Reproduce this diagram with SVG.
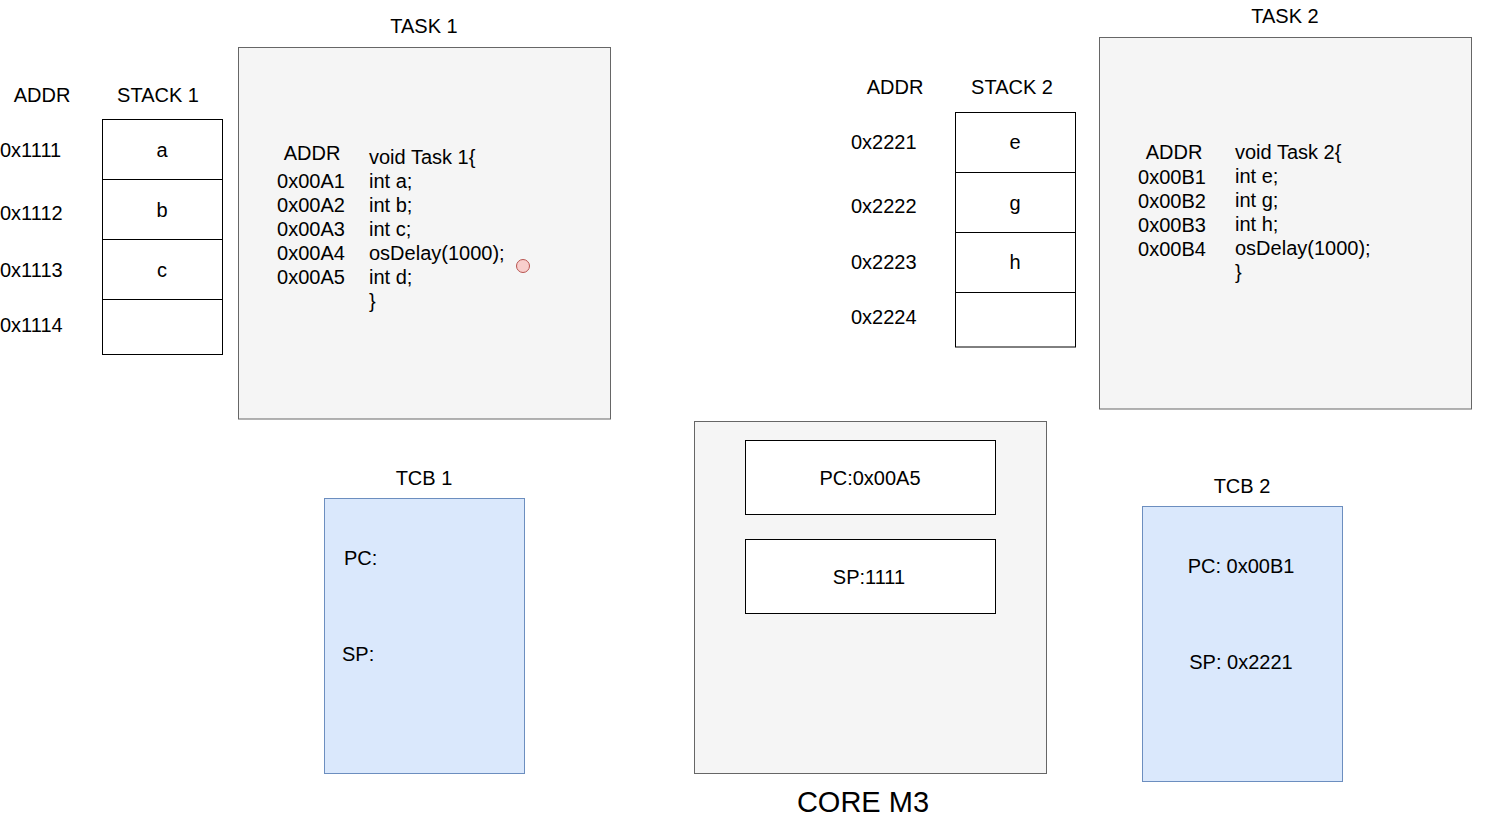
<svg xmlns="http://www.w3.org/2000/svg" width="1501" height="819" viewBox="0 0 1501 819">
<style>
text{font-family:"Liberation Sans",Arial,sans-serif;font-size:20px;fill:#000;dominant-baseline:central}
.c{text-anchor:middle}
.task{fill:#f5f5f5;stroke:#666;stroke-width:1}
.cell{fill:#fff;stroke:#000;stroke-width:1}
.tcb{fill:#dae8fc;stroke:#6c8ebf;stroke-width:1}
.big{font-size:29px}
</style>
<rect width="1501" height="819" fill="#fff"/>
<g id="connectors"/>

<g id="task1">
<rect class="task" x="238.5" y="47.5" width="372" height="371.5"/>
<text class="c" x="424" y="26">TASK 1</text>
<text class="c" x="312" y="153">ADDR</text>
<text class="c" x="311" y="181">0x00A1</text>
<text class="c" x="311" y="205">0x00A2</text>
<text class="c" x="311" y="229">0x00A3</text>
<text class="c" x="311" y="253">0x00A4</text>
<text class="c" x="311" y="277">0x00A5</text>
<text x="369" y="157">void Task 1{</text>
<text x="369" y="181">int a;</text>
<text x="369" y="205">int b;</text>
<text x="369" y="229">int c;</text>
<text x="369" y="253">osDelay(1000);</text>
<text x="369" y="277">int d;</text>
<text x="369" y="301">}</text>
</g>
<g id="pointer1">
<circle cx="523" cy="266" r="6.5" fill="#f8cecc" stroke="#b85450" stroke-width="1"/>
</g>

<g id="stack1">
<text class="c" x="42" y="95">ADDR</text>
<text class="c" x="158" y="95">STACK 1</text>
<rect class="cell" x="102.5" y="119.5" width="120" height="60"/>
<rect class="cell" x="102.5" y="179.5" width="120" height="60"/>
<rect class="cell" x="102.5" y="239.5" width="120" height="60"/>
<rect class="cell" x="102.5" y="299.5" width="120" height="55"/>
<text class="c" x="162" y="150">a</text>
<text class="c" x="162" y="210">b</text>
<text class="c" x="162" y="270">c</text>
<text x="0" y="150">0x1111</text>
<text x="0" y="213">0x1112</text>
<text x="0" y="270">0x1113</text>
<text x="0" y="325">0x1114</text>
</g>

<g id="stack2">
<text class="c" x="895" y="87">ADDR</text>
<text class="c" x="1012" y="87">STACK 2</text>
<rect class="cell" x="955.5" y="112.5" width="120" height="60"/>
<rect class="cell" x="955.5" y="172.5" width="120" height="60"/>
<rect class="cell" x="955.5" y="232.5" width="120" height="60"/>
<rect class="cell" x="955.5" y="292.5" width="120" height="54.5"/>
<text class="c" x="1015" y="142">e</text>
<text class="c" x="1015" y="203">g</text>
<text class="c" x="1015" y="262">h</text>
<text x="851" y="142">0x2221</text>
<text x="851" y="206">0x2222</text>
<text x="851" y="262">0x2223</text>
<text x="851" y="317">0x2224</text>
</g>

<g id="task2">
<rect class="task" x="1099.5" y="37.5" width="372" height="371.5"/>
<text class="c" x="1285" y="16">TASK 2</text>
<text class="c" x="1174" y="152">ADDR</text>
<text class="c" x="1172" y="177">0x00B1</text>
<text class="c" x="1172" y="201">0x00B2</text>
<text class="c" x="1172" y="225">0x00B3</text>
<text class="c" x="1172" y="249">0x00B4</text>
<text x="1235" y="152">void Task 2{</text>
<text x="1235" y="176">int e;</text>
<text x="1235" y="200">int g;</text>
<text x="1235" y="224">int h;</text>
<text x="1235" y="248">osDelay(1000);</text>
<text x="1235" y="272">}</text>
</g>

<g id="core">
<rect class="task" x="694.5" y="421.5" width="352" height="352"/>
<text class="c big" x="863" y="802">CORE M3</text>
</g>
<g id="pc">
<rect class="cell" x="745.5" y="440.5" width="250" height="74"/>
<text class="c" x="870" y="478">PC:0x00A5</text>
</g>
<g id="sp">
<rect class="cell" x="745.5" y="539.5" width="250" height="74"/>
<text class="c" x="869" y="577">SP:1111</text>
</g>

<g id="tcb1">
<text class="c" x="424" y="478">TCB 1</text>
<rect class="tcb" x="324.5" y="498.5" width="200" height="275"/>
<text x="344" y="558">PC:</text>
<text x="342" y="654">SP:</text>
</g>

<g id="tcb2">
<text class="c" x="1242" y="486">TCB 2</text>
<rect class="tcb" x="1142.5" y="506.5" width="200" height="275"/>
<text class="c" x="1241" y="566">PC: 0x00B1</text>
<text class="c" x="1241" y="662">SP: 0x2221</text>
</g>
</svg>
